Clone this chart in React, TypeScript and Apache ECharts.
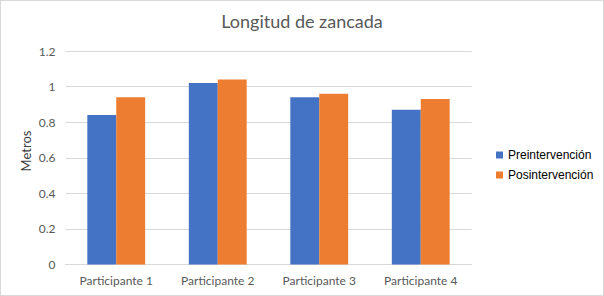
import React, { useEffect, useRef } from "react";
import * as echarts from "echarts";

const categories = ["Participante 1", "Participante 2", "Participante 3", "Participante 4"];
const preValues = [0.84, 1.02, 0.94, 0.87];
const posValues = [0.94, 1.04, 0.96, 0.93];
const seriesNames = ["Preintervención", "Posintervención"];
const titleText = "Longitud de zancada";
const yAxisName = "Metros";

export default function App() {
  const ref = useRef<HTMLDivElement>(null);
  useEffect(() => {
    document.body.style.margin = "0";
    const chart = echarts.init(ref.current!, undefined, { renderer: "svg" });
    chart.setOption({
      animation: false,
      backgroundColor: "#ffffff",
      title: {
        text: titleText,
        left: "center",
        top: 6,
        textStyle: { fontFamily: "Lato", fontSize: 18, fontWeight: "normal", color: "#595959" },
      },
      legend: {
        orient: "vertical",
        left: 490,
        top: 143,
        itemWidth: 7,
        itemHeight: 7,
        itemGap: 8,
        icon: "rect",
        data: seriesNames,
        textStyle: { fontFamily: "Liberation Sans", fontSize: 12, color: "#000000" },
      },
      graphic: [
        {
          type: "text",
          x: 25,
          y: 150,
          rotation: Math.PI / 2,
          style: {
            text: yAxisName,
            fontFamily: "Lato",
            fontSize: 13,
            fill: "#404040",
            textAlign: "center",
            textVerticalAlign: "middle",
          },
        },
      ],
      grid: { left: 64.5, top: 50, width: 406, height: 213.5, containLabel: false },
      xAxis: {
        type: "category",
        data: categories,
        axisLine: { show: true, lineStyle: { color: "#d9d9d9", width: 1 } },
        axisTick: { show: false },
        axisLabel: { fontFamily: "Lato", fontSize: 12, color: "#595959", margin: 10 },
      },
      yAxis: {
        type: "value",
        min: 0,
        max: 1.2,
        interval: 0.2,
        axisLine: { show: false },
        axisTick: { show: false },
        splitLine: { lineStyle: { color: "#d9d9d9", width: 1 } },
        axisLabel: { fontFamily: "Lato", fontSize: 12, color: "#595959", margin: 10 },
      },
      series: [
        {
          name: seriesNames[0],
          type: "bar",
          data: preValues,
          itemStyle: { color: "#4472C4" },
          barGap: "0%",
          barCategoryGap: "43%",
        },
        {
          name: seriesNames[1],
          type: "bar",
          data: posValues,
          itemStyle: { color: "#ED7D31" },
          barGap: "0%",
          barCategoryGap: "43%",
        },
      ],
    });
    return () => chart.dispose();
  }, []);
  return (
    <div style={{ width: 604, height: 296, boxSizing: "border-box", border: "1px solid #d9d9d9", background: "#fff" }}>
      <div ref={ref} style={{ width: 602, height: 294 }} />
    </div>
  );
}
